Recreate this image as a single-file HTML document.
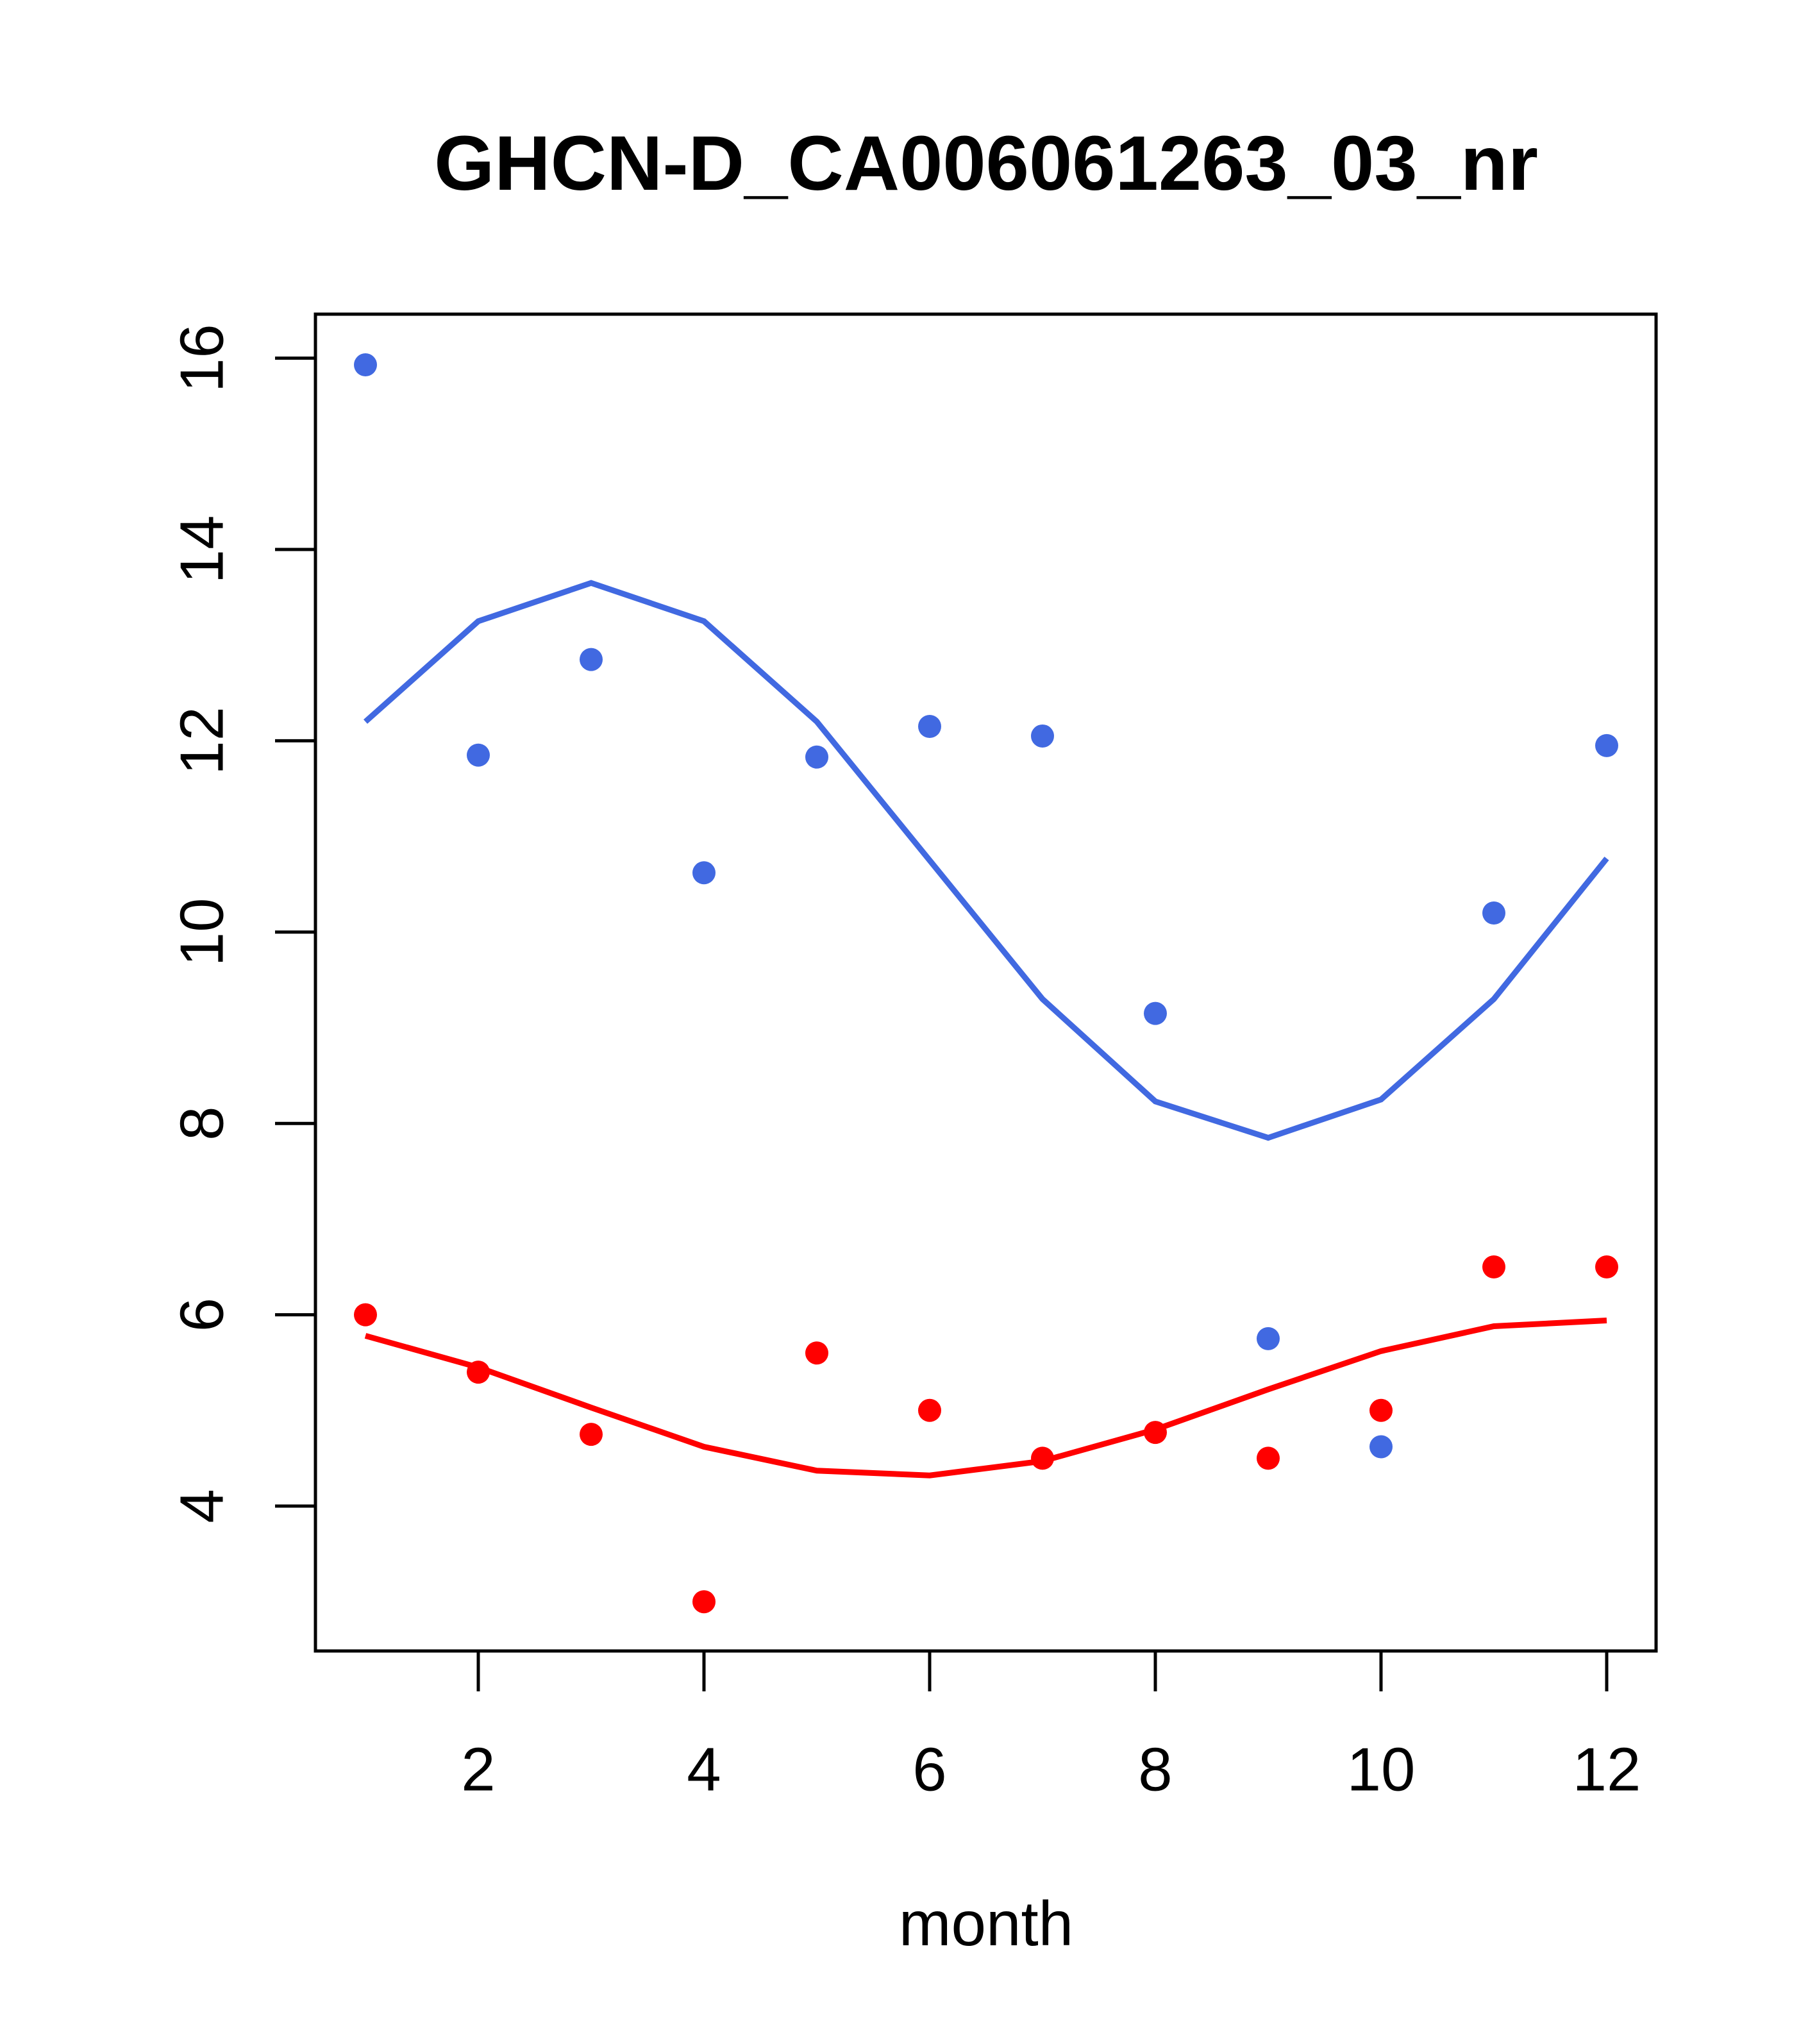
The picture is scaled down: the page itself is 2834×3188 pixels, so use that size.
<!DOCTYPE html>
<html><head><meta charset="utf-8"><style>
html,body{margin:0;padding:0;background:#fff}
svg{display:block}
text{font-family:"Liberation Sans",Arial,sans-serif}
</style></head><body>
<svg id="chart" width="2834" height="3188" viewBox="0 0 2834 3188" xmlns="http://www.w3.org/2000/svg">
<rect width="2834" height="3188" fill="#fff"/>
<text x="1538" y="254" font-size="121" font-weight="bold" text-anchor="middle" dominant-baseline="central">GHCN-D_CA006061263_03_nr</text>
<rect x="492" y="490" width="2091" height="2085" fill="none" stroke="#000" stroke-width="5"/>
<text x="1538" y="3000" font-size="98" text-anchor="middle" dominant-baseline="central">month</text>
<g id="axes"></g>
<g id="marks"></g>
</svg>
<script>
const months=[1,2,3,4,5,6,7,8,9,10,11,12];
const bluePoints=[15.93,11.85,12.85,10.62,11.83,12.15,12.05,9.15,5.75,4.62,10.2,11.95];
const blueLine=[12.2,13.25,13.65,13.25,12.2,10.75,9.3,8.23,7.85,8.25,9.3,10.77];
const redPoints=[6.0,5.4,4.75,3.0,5.6,5.0,4.5,4.77,4.5,5.0,6.5,6.5];
const redLine=[5.78,5.45,5.03,4.62,4.37,4.32,4.47,4.8,5.22,5.62,5.88,5.94];
const xTicks=[2,4,6,8,10,12];
const yTicks=[4,6,8,10,12,14,16];

const NS="http://www.w3.org/2000/svg";
function sx(m){return 746+(m-2)*176;}
function sy(v){return 2349-(v-4)*149.2;}
const axes=document.getElementById('axes');
const marks=document.getElementById('marks');
function mk(tag,attrs,parent){const e=document.createElementNS(NS,tag);for(const k in attrs)e.setAttribute(k,attrs[k]);parent.appendChild(e);return e;}

xTicks.forEach(t=>{
  const l=mk('line',{x1:sx(t),x2:sx(t),y1:2575,y2:2638,stroke:'#000','stroke-width':5},axes);
  
  
  const tx=mk('text',{x:sx(t),y:2760,'font-size':96,'text-anchor':'middle','dominant-baseline':'central'},axes);
  tx.textContent=t;
  
  
});
yTicks.forEach(t=>{
  const l=mk('line',{x1:429,x2:492,y1:sy(t),y2:sy(t),stroke:'#000','stroke-width':5},axes);
  
  
  const tx=mk('text',{x:315,y:sy(t),'font-size':96,'text-anchor':'middle','dominant-baseline':'central',transform:`rotate(-90 315 ${sy(t)})`},axes);
  tx.textContent=t;
  
  
});

function drawLine(vals,color,name){
  const p=mk('polyline',{points:vals.map((v,i)=>sx(months[i])+','+sy(v)).join(' '),fill:'none',stroke:color,'stroke-width':9},marks);
  
  
}
function drawPts(vals,color,name){
  vals.forEach((v,i)=>{
    const c=mk('circle',{cx:sx(months[i]),cy:sy(v),r:18,fill:color},marks);
    
    
  });
}
drawLine(blueLine,'#4169E1','blue-fit-line');
drawLine(redLine,'#FF0000','red-fit-line');
drawPts(bluePoints,'#4169E1','blue-point');
drawPts(redPoints,'#FF0000','red-point');
</script>
</body></html>
